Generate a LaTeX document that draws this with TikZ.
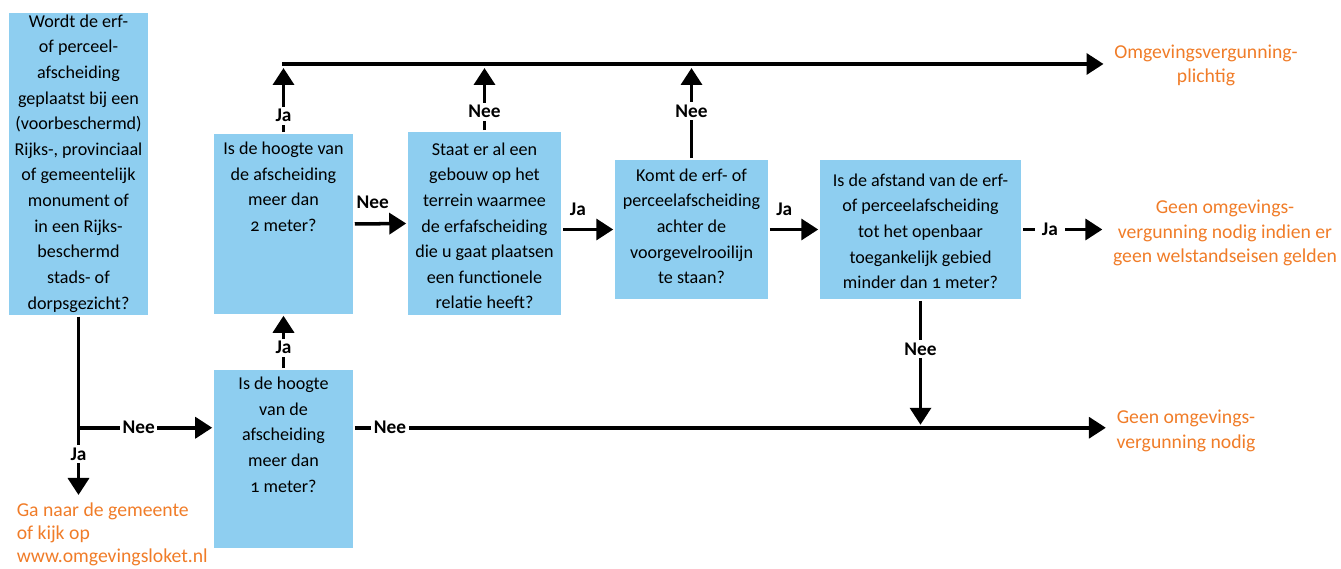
\documentclass[tikz,border=0pt]{standalone}
\usepackage{fontspec}
\setmainfont{Carlito}[Numbers=OldStyle]
\usetikzlibrary{arrows.meta,calc}
\definecolor{skyblue}{RGB}{142,206,240}
\definecolor{rijksorange}{RGB}{240,124,40}
\newcommand{\qtext}[4][0pt]{\parbox[c][#3][t]{#2}{\centering\vspace*{#1}#4}}
\begin{document}
\begin{tikzpicture}[line width=2pt,>={Triangle[length=0.34cm,width=0.42cm]},
qbox/.style={fill=skyblue,inner sep=0pt,font=\fontsize{10.3}{14.6}\selectfont},
outcome/.style={text=rijksorange,align=center,inner sep=0.18cm,font=\fontsize{11.2}{14}\selectfont},
answer/.style={fill=white,inner sep=1.5pt,font=\fontsize{11}{12}\selectfont\bfseries},
answerabove/.style={inner sep=0pt,font=\fontsize{11}{12}\selectfont\bfseries}]
\useasboundingbox (0,0) rectangle (26.82,11.38);

\draw (1.57,8.10) node[qbox] (A) {\qtext[0.03cm]{2.78cm}{6.04cm}{Wordt de erf-\\of perceel-\\afscheiding\\geplaatst bij een\\(voorbeschermd)\\Rijks-, provinciaal\\of gemeentelijk\\monument of\\in een Rijks-\\beschermd\\stads- of\\dorpsgezicht?}};
\draw (5.67,6.90) node[qbox] (B) {\qtext[0.16cm]{2.78cm}{3.60cm}{Is de hoogte van\\de afscheiding\\meer dan\\2 meter?}};
\draw (9.69,6.91) node[qbox] (C) {\qtext[0.21cm]{3.06cm}{3.66cm}{Staat er al een\\gebouw op het\\terrein waarmee\\de erfafscheiding\\die u gaat plaatsen\\een functionele\\relatie heeft?}};
\draw (13.83,6.79) node[qbox] (D) {\qtext[0.17cm]{3.06cm}{2.78cm}{Komt de erf- of\\perceelafscheiding\\achter de\\voorgevelrooilijn\\te staan?}};
\draw (18.41,6.79) node[qbox] (E) {\qtext[0.27cm]{4.02cm}{2.78cm}{Is de afstand van de erf-\\of perceelafscheiding\\tot het openbaar\\toegankelijk gebied\\minder dan 1 meter?}};
\draw (5.67,2.20) node[qbox] (F) {\qtext[0.14cm]{2.78cm}{3.56cm}{Is de hoogte\\van de\\afscheiding\\meer dan\\1 meter?}};

\draw (24.12,10.07) node[outcome] (plicht) {Omgevingsvergunning-\\plichtig};
\draw (24.50,6.72) node[outcome] (welst) {Geen omgevings-\\vergunning nodig indien er\\geen welstandseisen gelden};
\draw (23.72,2.76) node[outcome] (nodig) {Geen omgevings-\\vergunning nodig};
\draw (0.20,1.46) node[outcome,anchor=north west,align=left,inner sep=0.1cm,font=\fontsize{11.2}{13}\selectfont] (goto) {Ga naar de gemeente\\of kijk op\\www.omgevingsloket.nl};

\coordinate (top) at (5.64,10.10);
\coordinate (split) at ([yshift=-2.22cm]A.south);

\draw[->] (top) -- (top -| plicht.west);
\draw[->] (B.north) -- ($(B.north |- top)+(0,-0.08)$) node[answer,pos=0.26] {Ja};
\draw[->] (C.north) -- ($(C.north |- top)+(0,-0.08)$) node[answer,pos=0.3] {Nee};
\draw[->] (D.north) -- ($(D.north |- top)+(0,-0.08)$) node[answer,pos=0.52] {Nee};

\draw[->] (B.east) -- (C.west) node[answerabove,pos=0.35,above=0.27cm] {Nee};
\draw[->] (C.east |- D.west) -- (D.west) node[answerabove,pos=0.3,above=0.25cm] {Ja};
\draw[->] (D.east) -- (E.west) node[answerabove,pos=0.3,above=0.25cm] {Ja};
\draw[->] (E.east) -- (E.east -| welst.west) node[answer,pos=0.34,inner xsep=4pt] {Ja};
\draw[->] (E.south) -- ($(E.south |- split)+(0,0.06)$) node[answer,pos=0.39] {Nee};

\draw[->] (A.south) -- ($(A.south |- goto.north)+(0,0.02)$) node[answer,pos=0.77] {Ja};
\draw[->] (split) -- (split -| F.west) node[answer,pos=0.45] {Nee};
\draw[->] (split -| F.east) -- (split -| nodig.west) node[answer,pos=0.047] {Nee};
\draw[->] (F.north) -- (B.south) node[answer,pos=0.39] {Ja};
\end{tikzpicture}
\end{document}
